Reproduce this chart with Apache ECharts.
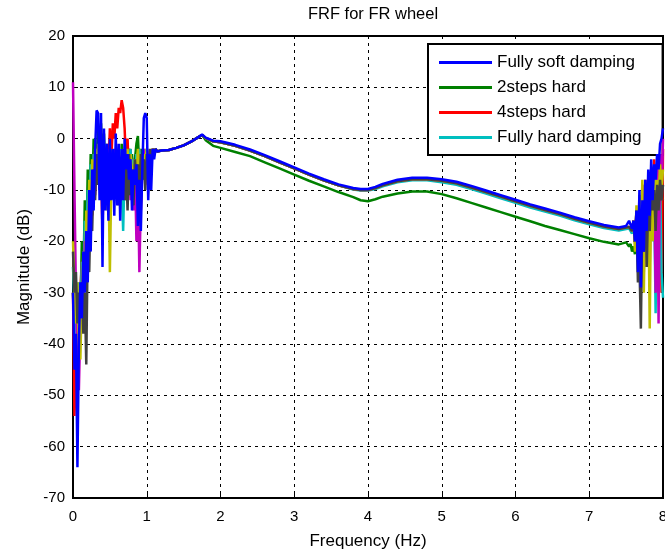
<!DOCTYPE html>
<html>
<head>
<meta charset="utf-8">
<script src="https://cdn.jsdelivr.net/npm/echarts@6/dist/echarts.min.js"></script>
<style>
  html, body { margin: 0; padding: 0; background: #fff; }
  #chart { width: 665px; height: 552px; }
</style>
</head>
<body>
<div id="chart"></div>
<script>
// frequency points (Hz) for the three bands of the plot
var freqLow = [0, 0.02, 0.04, 0.06, 0.08, 0.10, 0.12, 0.14, 0.16, 0.18, 0.20, 0.22, 0.24, 0.26, 0.28, 0.30, 0.32, 0.34, 0.36, 0.38,
    0.40, 0.42, 0.44, 0.46, 0.48, 0.50, 0.52, 0.54, 0.56, 0.58, 0.60, 0.62, 0.64, 0.66, 0.68, 0.70, 0.72, 0.74, 0.76, 0.78,
    0.80, 0.82, 0.84, 0.86, 0.88, 0.90, 0.92, 0.94, 0.96, 0.98, 1.00, 1.02, 1.04, 1.06, 1.08, 1.10, 1.12, 1.14, 1.16];
var freqMid = [1.2, 1.3, 1.4, 1.5, 1.6, 1.7, 1.75, 1.8, 1.9, 2.0, 2.2, 2.4, 2.6, 2.8, 3.0, 3.2, 3.4, 3.6, 3.8, 3.9,
    4.0, 4.1, 4.2, 4.4, 4.6, 4.8, 5.0, 5.2, 5.4, 5.6, 5.8, 6.0, 6.2, 6.4, 6.6, 6.8, 7.0, 7.2, 7.4, 7.5];
var freqHigh = [7.52, 7.54, 7.56, 7.58, 7.60, 7.62, 7.64, 7.66, 7.68, 7.70, 7.72, 7.74, 7.76, 7.78, 7.80, 7.82, 7.84, 7.86,
    7.88, 7.90, 7.92, 7.94, 7.96, 7.98, 8.00];

// magnitudes (dB)
var softLow = [-30, -45, -38, -64, -40, -28, -35, -22, -30, -18, -28, -10, -22, -6, -14, -2, 5.5, 5, -12, 5,
    -25, 2, -14, -1, -16, 0, -12, -2, -15, 1, -13, -1, -16, -2, -12, 0, -6, -3, -8, -4,
    -14, -6, -9, -5, -17, -8, -18, -6, 4, 5, 4, -12, -3, -10, -2, -4, -2, -2.5, -2.3];
var softMid = [-2.3, -2.2, -1.8, -1.3, -0.6, 0.3, 0.8, 0.2, -0.4, -0.5, -1.2, -2.1, -3.2, -4.4, -5.6, -6.8, -7.9, -8.9, -9.6, -9.8,
    -9.8, -9.4, -8.8, -8.0, -7.6, -7.6, -7.9, -8.4, -9.2, -10.1, -11.0, -11.9, -12.8, -13.6, -14.4, -15.3, -16.1, -16.8, -17.3, -17.0];
var softHigh = [-17, -16, -15.8, -17.5, -16, -20, -14, -26, -10, -29, -12, -22, -8, -18, -6, -15, -4, -12, -5, -8, -3, -6, -1, 0, 2];

var step2Low = [-30, -38, -44, -36, -30, -34, -20, -28, -12, -22, -6, -16, -3, -12, 0, -8, -4, 2, -10, 3,
    -6, 1, -8, -2, -10, -1, -6, -3, -9, -2, -7, -4, -10, -1, -6, -3, -12, -5, -2, -8,
    -3, -10, -4, -1, 0.5, -6, -2, -8, -3, -6, -2, -8, -3, -5, -2, -3, -2, -2.5, -2.3];
var step2Mid = [-2.3, -2.2, -1.8, -1.3, -0.6, 0.3, 0.7, -0.3, -1.4, -1.8, -2.6, -3.4, -4.6, -5.8, -7.0, -8.2, -9.3, -10.4, -11.4, -12.0,
    -12.2, -11.8, -11.3, -10.7, -10.3, -10.3, -10.8, -11.6, -12.5, -13.4, -14.3, -15.2, -16.1, -17.0, -17.8, -18.6, -19.4, -20.1, -20.6, -20.2];
var step2High = [-20.2, -21, -20.5, -22, -21, -22.5, -19, -18, -21, -15, -20, -12, -17, -10, -14, -8, -13, -6, -12, -9, -14, -10, -12, -11, -12];

var step4Low = [-30, -54, -45, -38, -42, -30, -24, -32, -18, -26, -12, -20, -6, -14, -3, -10, -2, -8, 0, -6,
    -18, -3, -8, -1, -6, 2, -4, 3, 0, 5, 2, 6, 5, 7.5, 6, 2, -5, 0, -8, -2,
    -10, -4, -12, -3, -8, -2, -14, -5, -2, -8, -3, -10, -4, -6, -2, -3, -2, -2.5, -2.3];
var step4Mid = [-2.3, -2.2, -1.8, -1.3, -0.6, 0.3, 0.7, 0.1, -0.5, -0.7, -1.4, -2.3, -3.4, -4.6, -5.8, -7.0, -8.1, -9.1, -9.8, -10.0,
    -10.0, -9.6, -9.1, -8.3, -7.9, -7.9, -8.2, -8.7, -9.5, -10.4, -11.3, -12.2, -13.1, -13.9, -14.7, -15.6, -16.4, -17.1, -17.6, -17.3];
var step4High = [-17.3, -17.2, -17, -18, -16, -19, -15, -22, -12, -20, -10, -18, -8, -25, -9, -14, -6, -18, -4, -12, -6, -22, -3, -30, -2];

var hardLow = [-25, -32, -40, -35, -28, -36, -24, -30, -16, -22, -10, -18, -5, -12, -3, -9, -2, -7, -4, -11,
    -3, -8, -1, -6, -12, -4, -9, -2, -7, -3, -10, -5, -2, -8, -18, -6, -3, -10, -5, -2,
    -8, -4, -10, -3, -7, -2, -12, -5, -3, -6, -2, -8, -3, -4, -2, -3, -2, -2.5, -2.3];
var hardMid = [-2.3, -2.2, -1.8, -1.3, -0.6, 0.3, 0.7, 0.1, -0.5, -0.7, -1.4, -2.3, -3.4, -4.6, -5.8, -7.0, -8.1, -9.1, -9.9, -10.1,
    -10.1, -9.8, -9.3, -8.5, -8.1, -8.1, -8.5, -9.0, -9.8, -10.7, -11.6, -12.5, -13.4, -14.2, -15.0, -15.9, -16.7, -17.4, -17.9, -17.6];
var hardHigh = [-17.6, -17.5, -17.3, -18.5, -17, -20, -15, -24, -12, -20, -9, -26, -13, -18, -10, -22, -8, -20, -12, -34, -10, -20, -8, -26, -31];

var magLow = [11, -10, -30, -42, -49, -36, -28, -34, -20, -26, -14, -20, -9, -15, -6, -11, -3, -8, -2, -7,
    -4, -10, -3, -7, -2, -9, -4, -6, -2, -8, -3, -7, -4, -10, -3, -6, -2, -9, -4, -12,
    -6, -14, -5, -20, -8, -26, -12, -6, -2, -9, -4, -8, -3, -5, -2, -3, -2, -2.5, -2.3];
var magHigh = [-17.3, -17.2, -17, -18, -16, -20, -14, -22, -11, -18, -9, -15, -12, -20, -8, -25, -6, -18, -10, -30, -5, -36, -3, -12, 0];

var yelLow = [-20, -30, -36, -28, -40, -43, -30, -22, -30, -14, -22, -8, -16, -4, -12, -2, -8, -1, -6, -10,
    -3, -9, -4, -14, -6, -26, -8, -3, -10, -4, -8, -2, -6, -3, -9, -4, -7, -2, -8, -3,
    -6, -10, -4, -7, -2, -9, -3, -6, -3, -5, -2, -6, -3, -4, -2, -3, -2, -2.5, -2.3];
var yelHigh = [-17.3, -17.2, -17, -18, -16, -22, -13, -26, -11, -20, -8, -30, -12, -18, -10, -37, -9, -20, -6, -15, -8, -12, -5, -10, -6];

var grayLow = [-22, -30, -26, -36, -30, -33, -28, -38, -30, -44, -20, -26, -12, -18, -6, -12, -3, -9, -4, -11,
    -5, -13, -3, -10, -6, -12, -4, -11, -3, -9, -5, -13, -4, -10, -2, -12, -5, -14, -3, -11,
    -6, -13, -4, -9, -5, -12, -3, -8, -4, -10, -3, -7, -2, -5, -2, -3, -2, -2.5, -2.3];
var grayHigh = [-17.3, -17.2, -17, -18, -16, -20, -14, -28, -24, -37, -15, -22, -10, -25, -12, -18, -8, -14, -10, -18, -9, -14, -8, -12, -9];

var legendNames = ['Fully soft damping', '2steps hard', '4steps hard', 'Fully hard damping'];

function pairs(lo, mid, hi) {
    var out = [];
    freqLow.forEach(function (f, i) { out.push([f, lo[i]]); });
    freqMid.forEach(function (f, i) { out.push([f, mid[i]]); });
    freqHigh.forEach(function (f, i) { out.push([f, hi[i]]); });
    return out;
}

function line(name, color, data, z) {
    return {
        name: name,
        type: 'line',
        data: data,
        symbol: 'none',
        z: z,
        animation: false,
        lineStyle: { color: color, width: 2.5 },
        itemStyle: { color: color }
    };
}

var font = 'Liberation Sans, Arial, sans-serif';
var chart = echarts.init(document.getElementById('chart'));

var option = {
    backgroundColor: '#fff',
    animation: false,
    title: {
        text: 'FRF for FR wheel',
        left: 368,
        top: 1,
        textAlign: 'center',
        textStyle: { fontFamily: font, fontSize: 16.5, fontWeight: 'normal', color: '#000' }
    },
    grid: {
        left: 73, right: 2, top: 36, bottom: 54,
        outerBoundsMode: 'none',
        show: true, borderColor: '#000', borderWidth: 2, backgroundColor: 'transparent'
    },
    legend: {
        data: legendNames.map(function (n) {
            return { name: n, icon: 'path://M0,0 L53,0 L53,3 L0,3 Z' };
        }),
        orient: 'vertical',
        left: 428,
        top: 44,
        itemWidth: 53,
        itemHeight: 14,
        itemGap: 8,
        padding: [10, 21, 9, 11],
        backgroundColor: '#fff',
        borderColor: '#000',
        borderWidth: 2,
        borderRadius: 0,
        textStyle: { fontFamily: font, fontSize: 17, color: '#000' }
    },
    xAxis: {
        type: 'value',
        min: 0, max: 8, interval: 1,
        name: 'Frequency (Hz)',
        nameLocation: 'middle',
        nameGap: 35,
        nameTextStyle: { fontFamily: font, fontSize: 17, color: '#000' },
        axisLine: { show: true, onZero: false, lineStyle: { color: '#000', width: 2 } },
        axisTick: { show: true, inside: true, length: 5, lineStyle: { color: '#000' } },
        axisLabel: { fontFamily: font, fontSize: 15, color: '#000', margin: 11 },
        splitLine: { show: true, lineStyle: { color: '#000', width: 1, type: [3, 4] } }
    },
    yAxis: {
        type: 'value',
        min: -70, max: 20, interval: 10,
        name: 'Magnitude (dB)',
        nameLocation: 'middle',
        nameGap: 40,
        nameTextStyle: { fontFamily: font, fontSize: 17, color: '#000' },
        axisLine: { show: true, lineStyle: { color: '#000', width: 2 } },
        axisTick: { show: true, inside: true, length: 5, lineStyle: { color: '#000' } },
        axisLabel: { fontFamily: font, fontSize: 15, color: '#000', margin: 8 },
        splitLine: { show: true, lineStyle: { color: '#000', width: 1, type: [3, 4] } }
    },
    series: [
        line('2steps hard', '#008000', pairs(step2Low, step2Mid, step2High), 2),
        line('4steps hard', '#ff0000', pairs(step4Low, step4Mid, step4High), 3),
        line('Fully hard damping', '#00bfbf', pairs(hardLow, hardMid, hardHigh), 4),
        line('m', '#bf00bf', pairs(magLow, step4Mid, magHigh), 5),
        line('y', '#bfbf00', pairs(yelLow, step4Mid, yelHigh), 6),
        line('k', '#404040', pairs(grayLow, step4Mid, grayHigh), 7),
        line('Fully soft damping', '#0000ff', pairs(softLow, softMid, softHigh), 8)
    ]
};

chart.setOption(option);
</script>
</body>
</html>
